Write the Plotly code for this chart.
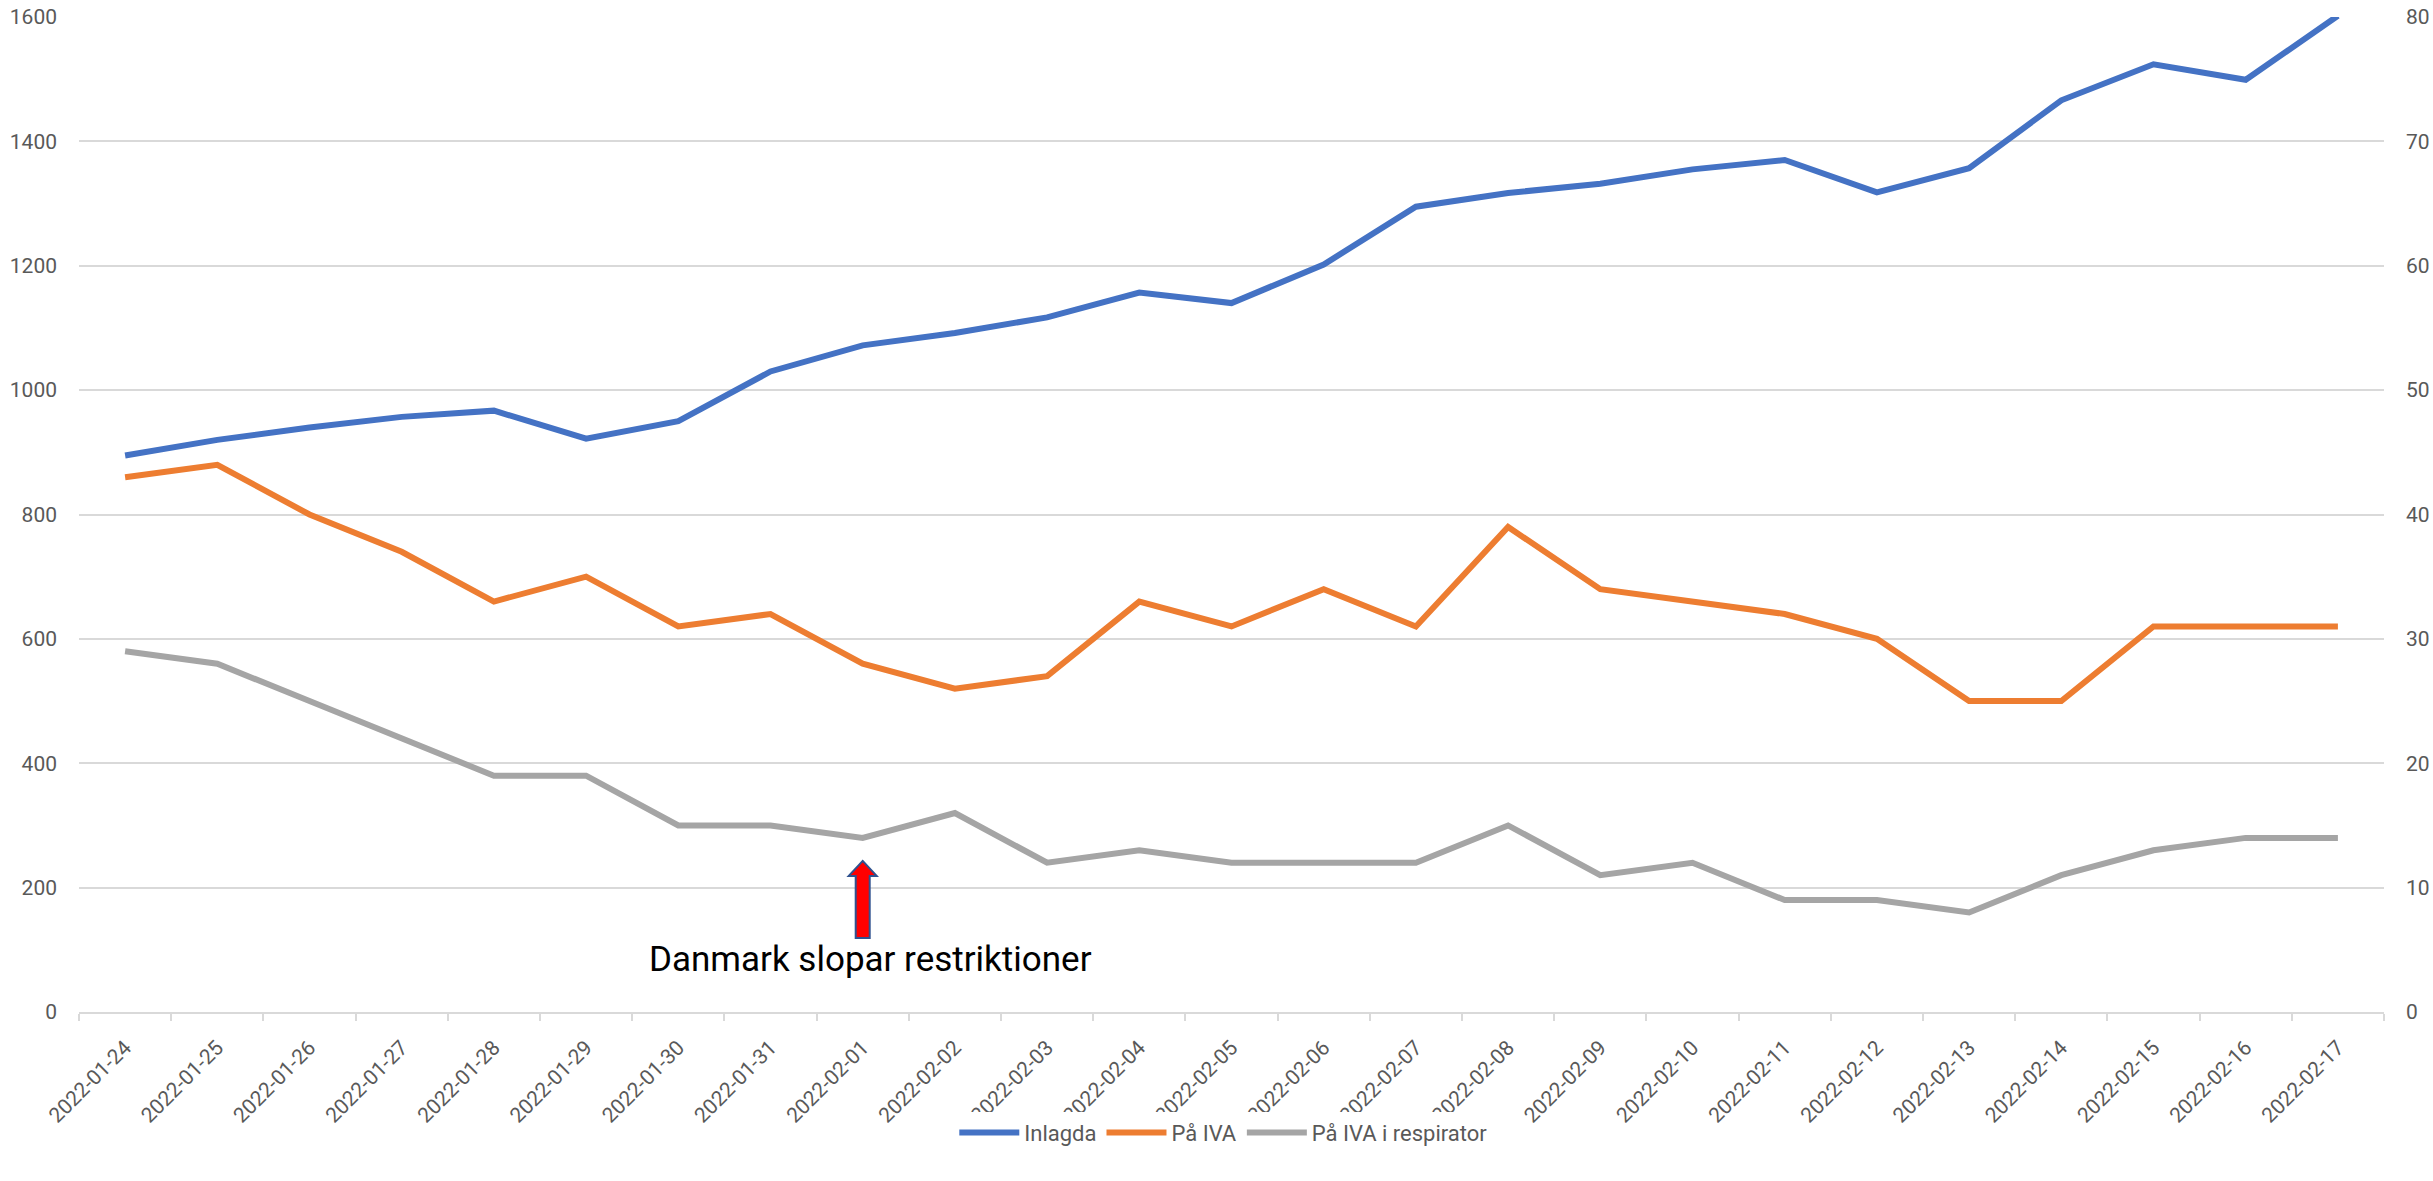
import plotly.graph_objects as go

# data
datum = ['2022-01-24', '2022-01-25', '2022-01-26', '2022-01-27', '2022-01-28',
         '2022-01-29', '2022-01-30', '2022-01-31', '2022-02-01', '2022-02-02',
         '2022-02-03', '2022-02-04', '2022-02-05', '2022-02-06', '2022-02-07',
         '2022-02-08', '2022-02-09', '2022-02-10', '2022-02-11', '2022-02-12',
         '2022-02-13', '2022-02-14', '2022-02-15', '2022-02-16', '2022-02-17']

inlagda = [895, 920, 940, 957, 967, 922, 950, 1030, 1072, 1092,
           1117, 1157, 1140, 1202, 1295, 1317, 1332, 1355, 1370, 1318,
           1357, 1466, 1524, 1499, 1602]

pa_iva = [43, 44, 40, 37, 33, 35, 31, 32, 28, 26,
          27, 33, 31, 34, 31, 39, 34, 33, 32, 30,
          25, 25, 31, 31, 31]

pa_iva_resp = [29, 28, 25, 22, 19, 19, 15, 15, 14, 16,
               12, 13, 12, 12, 12, 15, 11, 12, 9, 9,
               8, 11, 13, 14, 14]

left_ticks = [0, 200, 400, 600, 800, 1000, 1200, 1400, 1600]
right_ticks = [0, 10, 20, 30, 40, 50, 60, 70, 80]

FONT = 'Roboto, sans-serif'
GREY_TXT = '#595959'
GRID = '#D9D9D9'

fig = go.Figure()
fig.add_trace(go.Scatter(x=datum, y=inlagda, name='Inlagda', mode='lines',
                         line=dict(color='#4472C4', width=6)))
fig.add_trace(go.Scatter(x=datum, y=pa_iva, name='På IVA', mode='lines', yaxis='y2',
                         line=dict(color='#ED7D31', width=6)))
fig.add_trace(go.Scatter(x=datum, y=pa_iva_resp, name='På IVA i respirator', mode='lines',
                         yaxis='y2', line=dict(color='#A5A5A5', width=6)))

# block arrow pointing at 2022-02-01
fig.add_shape(type='path', xref='x', yref='y', xsizemode='pixel', ysizemode='pixel',
              xanchor='2022-02-01', yanchor=243,
              path='M 0 0 L 14 -15 L 7 -15 L 7 -77 L -7 -77 L -7 -15 L -14 -15 Z',
              fillcolor='#FF0000', line=dict(color='#2F528F', width=2), layer='above')

fig.add_annotation(x='2022-02-01', y=85, xref='x', yref='y', text='Danmark slopar restriktioner',
                   showarrow=False, xshift=8, font=dict(family=FONT, size=35, color='#000000'))

fig.update_layout(
    width=2433, height=1181,
    paper_bgcolor='white', plot_bgcolor='white',
    margin=dict(l=79, r=49, t=17, b=169, autoexpand=False),
    font=dict(family=FONT, size=21, color=GREY_TXT),
    showlegend=True,
    legend=dict(orientation='h', xref='container', yref='container', x=0.503, y=0.041,
                xanchor='center', yanchor='middle', font=dict(size=22, color=GREY_TXT),
                itemwidth=60, tracegroupgap=0),
    xaxis=dict(type='category', tickangle=-45, showgrid=False, showline=True,
               linecolor=GRID, linewidth=2, ticks='outside', tickson='boundaries',
               ticklen=7, tickcolor=GRID, tickwidth=2, tickfont=dict(size=21, color=GREY_TXT),
               ticklabelstandoff=13, automargin=False,
               range=[-0.5, len(datum) - 0.5], zeroline=False),
    yaxis=dict(range=[0, 1600], tickvals=left_ticks, showgrid=True, gridcolor=GRID,
               gridwidth=2, zeroline=False, showline=False, ticks='', automargin=False,
               ticklabelstandoff=21, tickfont=dict(size=21, color=GREY_TXT)),
    yaxis2=dict(range=[0, 80], tickvals=right_ticks, overlaying='y', side='right',
                showgrid=False, zeroline=False, showline=False, ticks='', automargin=False,
                ticklabelstandoff=21, tickfont=dict(size=21, color=GREY_TXT)),
)

# drop the browser's default body margin so the figure fills the window exactly
fig.write_html('out.html', config={'displayModeBar': False},
               post_script="document.body.style.margin='0px';")
